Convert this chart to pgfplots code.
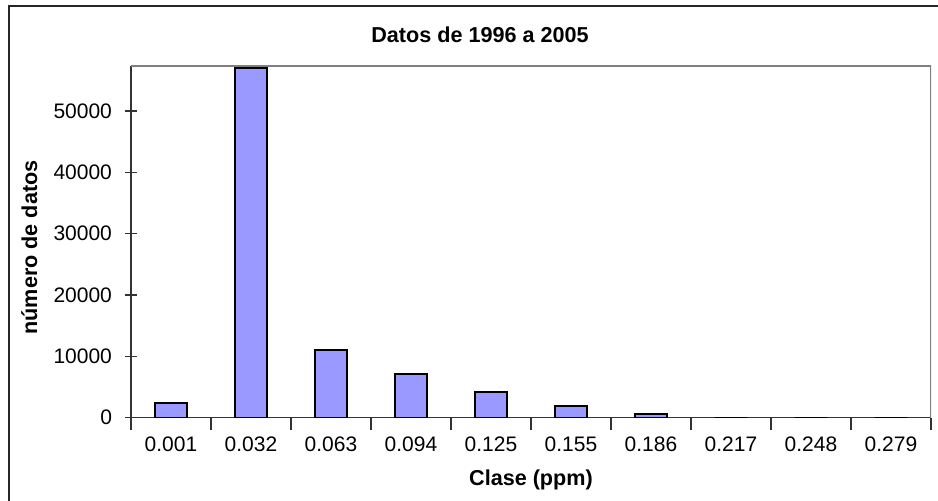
\documentclass[border=0pt]{standalone}
\usepackage{fontspec}
\setmainfont{Liberation Sans}
\usepackage{pgfplots}
\pgfplotsset{compat=1.18}
\definecolor{barfill}{HTML}{9999FF}
\definecolor{framegray}{HTML}{808080}

\begin{document}
\begin{tikzpicture}
% pixel grid of the reference: 1px = 0.5pt, y pointing down
\begin{scope}[x=0.5pt,y=-0.5pt]
  \coordinate (O) at (131,417.7);
\end{scope}

\begin{axis}[
    at={(O)}, anchor=south west,
    scale only axis, width=400pt, height=175.85pt,
    xmin=0, xmax=10, ymin=0, ymax=57330,
    axis x line*=bottom, axis y line*=left,
    axis line style={-, line width=0.6pt, black!80},
    xtick={0,...,10},
    xticklabels={0.001,0.032,0.063,0.094,0.125,0.155,0.186,0.217,0.248,0.279},
    x tick label as interval,
    ytick={0,10000,...,50000},
    scaled y ticks=false,
    tick align=center, major tick length=6pt,
    tick style={line width=0.6pt, black!80},
    ticklabel style={font=\fontsize{10.5}{12}\selectfont},
    yticklabel style={xshift=-3pt},
    /pgf/number format/assume math mode=true,
    /pgf/number format/1000 sep={},
    ybar, bar width=0.41,
]
\addplot[fill=barfill, draw=black, line width=1pt] coordinates {
    (0.5,2350) (1.5,57050) (2.5,11030) (3.5,7170) (4.5,4240)
    (5.5,1900) (6.5,650) (7.5,0) (8.5,0) (9.5,0)
};
\draw[framegray, line width=1pt] (rel axis cs:0,1) -- (rel axis cs:1,1) -- (rel axis cs:1,0);
\end{axis}

\begin{scope}[x=0.5pt,y=-0.5pt]
  \draw[line width=0.6pt, black!85] (9,530) -- (9,6) -- (980,6);
  \node[font=\bfseries\fontsize{10.8}{13}\selectfont, anchor=base] at (480,42.7) {Datos de 1996 a 2005};
  \node[font=\bfseries\fontsize{10.8}{13}\selectfont, anchor=base] at (531,485.7) {Clase (ppm)};
  \node[font=\bfseries\fontsize{10.8}{13}\selectfont, rotate=90, anchor=base] at (37,247.5) {número de datos};
  \pgfresetboundingbox
  \path[use as bounding box] (0,0) rectangle (938,501);
\end{scope}
\end{tikzpicture}
\end{document}
